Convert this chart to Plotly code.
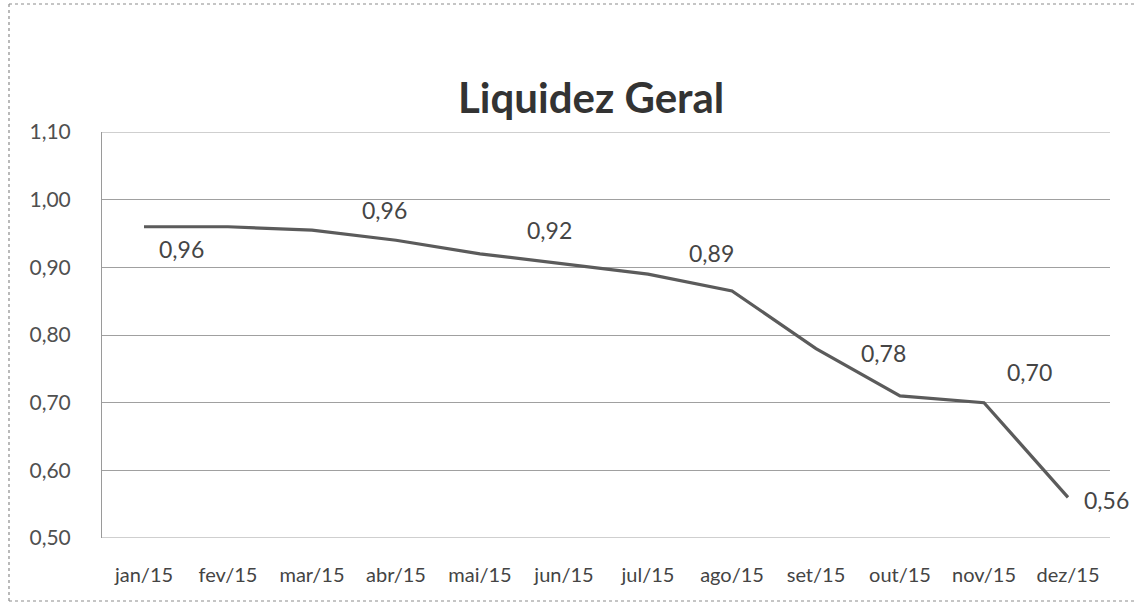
import plotly.graph_objects as go

# ---- data ----
months = ["jan/15", "fev/15", "mar/15", "abr/15", "mai/15", "jun/15",
          "jul/15", "ago/15", "set/15", "out/15", "nov/15", "dez/15"]
liquidez = [0.96, 0.96, 0.955, 0.94, 0.92, 0.905, 0.89, 0.865, 0.78, 0.71, 0.70, 0.56]
label_months = ["jan/15", "mar/15", "mai/15", "jul/15", "set/15", "nov/15", "dez/15"]
label_values = [0.96, 0.96, 0.92, 0.89, 0.78, 0.70, 0.56]
label_dx = [37, 72, 69, 63, 67, 45, 38]
label_dy = [-22, 20, 24, 21, -4, 31, -3]
title_text = "Liquidez Geral"
y_ticks = [0.5, 0.6, 0.7, 0.8, 0.9, 1.0, 1.1]
y_range = [0.5, 1.1]

FONT = "Lato, 'Open Sans', sans-serif"

W, H = 1135, 608
L, R, T, B = 102, 25, 132, 70
pw, ph = W - L - R, H - T - B


def px(xp):
    return (xp - L) / pw


def py(yp):
    return (H - B - yp) / ph


fig = go.Figure()
fig.add_trace(go.Scatter(
    x=months, y=liquidez, mode="lines",
    line=dict(color="#5b5b5b", width=3.2),
    hoverinfo="skip", showlegend=False,
))

val_by_month = dict(zip(months, liquidez))
for m, v, dx, dy in zip(label_months, label_values, label_dx, label_dy):
    fig.add_annotation(
        x=m, y=val_by_month[m], xref="x", yref="y",
        text=f"{v:.2f}".replace(".", ","),
        showarrow=False, xanchor="center", yanchor="middle",
        xshift=dx, yshift=dy,
        font=dict(family=FONT, size=23, color="#454545"),
    )

# title
fig.add_annotation(
    x=px(591), y=py(97), xref="paper", yref="paper",
    xanchor="center", yanchor="middle",
    text=f"<b>{title_text}</b>", showarrow=False,
    font=dict(family=FONT, size=42, color="#333333"),
)

# top and bottom gridlines at the axis limits
for yv in y_range:
    fig.add_shape(
        type="line", xref="paper", yref="y", x0=0, x1=1, y0=yv, y1=yv,
        line=dict(color="#a0a0a0", width=1.2), layer="below",
    )

# outer chart border (dashed): left, top, bottom edges (right edge is off-page)
border = dict(color="#8c8c8c", width=1.2, dash="dot")
bx0, bx1, by0, by1 = px(9), px(1135), py(601), py(4)
fig.add_shape(type="line", xref="paper", yref="paper",
              x0=bx0, x1=bx0, y0=by0, y1=by1, line=border, layer="below")
fig.add_shape(type="line", xref="paper", yref="paper",
              x0=bx0, x1=bx1, y0=by1, y1=by1, line=border, layer="below")
fig.add_shape(type="line", xref="paper", yref="paper",
              x0=bx0, x1=bx1, y0=by0, y1=by0, line=border, layer="below")

fig.update_layout(
    width=W, height=H,
    margin=dict(l=L, r=R, t=T, b=B),
    paper_bgcolor="white", plot_bgcolor="white",
    separators=",.",
    font=dict(family=FONT, color="#444444"),
    xaxis=dict(
        type="category", categoryorder="array", categoryarray=months,
        range=[-0.5, len(months) - 0.5],
        showgrid=False, zeroline=False, showline=False,
        ticks="", ticklabelstandoff=23,
        tickfont=dict(family=FONT, size=20, color="#444444"),
        fixedrange=True,
    ),
    yaxis=dict(
        range=y_range, tickvals=y_ticks, tickformat=".2f",
        showgrid=True, gridcolor="#a0a0a0", gridwidth=1.2,
        zeroline=False, showline=True, linecolor="#9a9a9a", linewidth=1,
        ticks="", ticklabelstandoff=26,
        tickfont=dict(family=FONT, size=21, color="#505050"),
        fixedrange=True,
    ),
)

fig.write_html(
    "out.html",
    config={"displayModeBar": False},
    post_script="document.body.style.margin='0';",
)
